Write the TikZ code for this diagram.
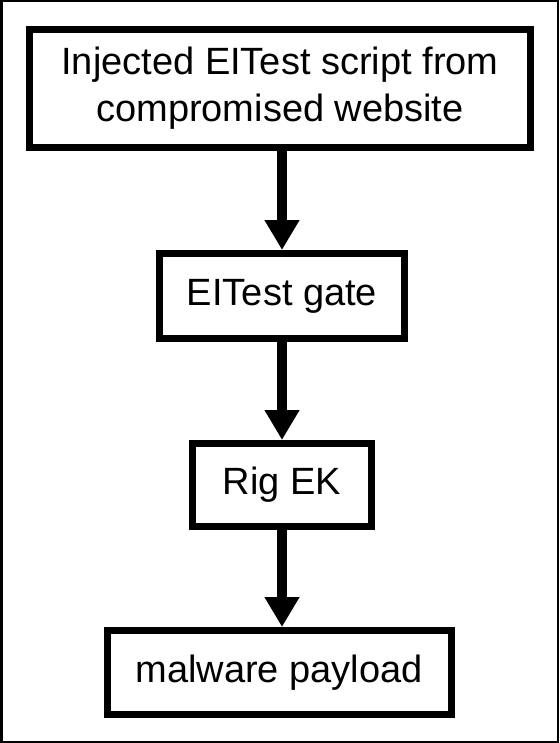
\documentclass[tikz,border=0pt]{standalone}
\usepackage{fontspec}
\setmainfont{Liberation Sans}
\usetikzlibrary{arrows.meta}
\begin{document}
\begin{tikzpicture}[x=1pt,y=-1pt,
  flowbox/.style={draw=black, line width=7pt, fill=white, align=center,
    inner sep=0pt, font=\fontsize{38}{47}\selectfont},
  flowarrow/.style={draw=black, line width=9.5pt,
    -{Triangle[width=33pt,length=30pt]}}]
\useasboundingbox (0,0) rectangle (559,743);
\fill[white] (0,0) rectangle (559,743);
\draw[line width=2.5pt] (1.25,1.25) rectangle (557.75,741.75);
\node[flowbox, minimum width=501pt, minimum height=118pt] (b1) at (280,88.5)
  {Injected EITest script from\\compromised website};
\node[flowbox, minimum width=245pt, minimum height=85pt] (b2) at (282,296) {EITest gate};
\node[flowbox, minimum width=179pt, minimum height=83pt] (b3) at (282,485) {Rig EK};
\node[flowbox, minimum width=344pt, minimum height=84pt] (b4) at (279,672.5) {malware payload};
\draw[flowarrow] (b1.south -| b2.north) -- (b2.north);
\draw[flowarrow] (b2.south) -- (b3.north);
\draw[flowarrow] (b3.south) -- (b3.south |- b4.north);
\end{tikzpicture}
\end{document}
